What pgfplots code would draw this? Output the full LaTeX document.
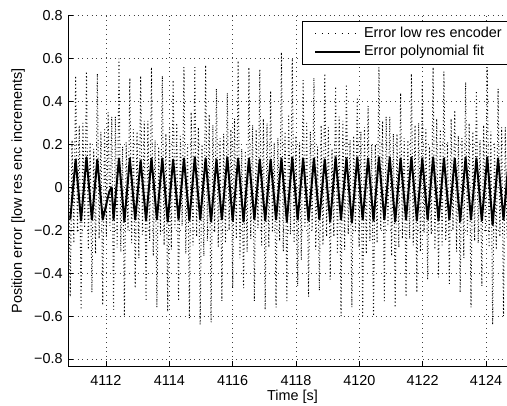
\documentclass[border=0pt]{standalone}
\usepackage{fontspec}
\setmainfont{Liberation Sans}
\usepackage{pgfplots}
\pgfplotsset{compat=1.18}

\newcommand{\figfont}{\fontsize{10.8}{13}\selectfont}

\begin{document}
\figfont
\begin{tikzpicture}
\begin{axis}[
  scale only axis,
  width=336.3pt, height=262.7pt,
  xmin=4110.81, xmax=4124.97,
  ymin=-0.833, ymax=0.8,
  axis lines=left,
  axis line style={-, line width=0.6pt},
  tick align=inside,
  major tick length=3.5pt,
  tick style={black, line width=0.5pt},
  xtick={4112,4114,4116,4118,4120,4122,4124},
  xticklabels={4112,4114,4116,4118,4120,4122,4124},
  ytick={-0.8,-0.6,-0.4,-0.2,0,0.2,0.4,0.6,0.8},
  yticklabels={−0.8,−0.6,−0.4,−0.2,0,0.2,0.4,0.6,0.8},
  tick label style={font=\figfont},
  xticklabel shift=3pt,
  yticklabel shift=0.5pt,
  grid=major,
  grid style={black!75, line width=0.5pt, dash pattern=on 0.5pt off 3pt},
  xlabel={Time [s]},
  ylabel={Position error [low res enc increments]},
  every axis x label/.style={at={(axis description cs:0.5,-0.0885)}, anchor=center, font=\figfont},
  every axis y label/.style={at={(axis description cs:-0.112,0.5)}, rotate=90, anchor=center, font=\figfont},
  legend cell align=left,
  legend style={at={(1,1)}, anchor=north east, xshift=0pt, yshift=-4pt,
    draw=black, line width=0.5pt, fill=white, inner xsep=9pt, inner ysep=2.5pt,
    font=\figfont},
  legend image code/.code={\draw[#1] (0pt,0pt) -- (33.75pt,0pt);},
]
\addplot[black, line width=0.72pt, dash pattern=on 0.72pt off 1.95pt,
  legend image code/.code={\draw[black, line width=0.6pt, dash pattern=on 0.6pt off 4.3pt] (0pt,0pt) -- (33.75pt,0pt);}]
table {
4110.815 0.25
4110.872 -0.51
4110.929 0.22
4110.986 -0.26
4111.043 0.52
4111.100 -0.21
4111.157 0.29
4111.214 -0.57
4111.271 0.30
4111.328 -0.19
4111.385 0.54
4111.442 -0.29
4111.499 0.21
4111.556 -0.49
4111.613 0.18
4111.670 -0.31
4111.727 0.53
4111.784 -0.24
4111.841 0.26
4111.898 -0.55
4111.955 0.27
4112.012 -0.23
4112.069 0.35
4112.126 -0.18
4112.183 0.33
4112.240 -0.57
4112.297 0.33
4112.354 -0.28
4112.411 0.60
4112.468 -0.30
4112.525 0.19
4112.582 -0.60
4112.639 0.21
4112.696 -0.20
4112.753 0.51
4112.810 -0.26
4112.867 0.27
4112.924 -0.47
4112.981 0.26
4113.038 -0.33
4113.095 0.52
4113.152 -0.22
4113.209 0.31
4113.266 -0.53
4113.323 0.31
4113.380 -0.25
4113.437 0.56
4113.494 -0.32
4113.551 0.22
4113.608 -0.56
4113.665 0.19
4113.722 -0.22
4113.779 0.52
4113.836 -0.27
4113.893 0.25
4113.950 -0.58
4114.007 0.28
4114.064 -0.29
4114.121 0.50
4114.178 -0.19
4114.235 0.30
4114.292 -0.53
4114.349 0.24
4114.406 -0.18
4114.463 0.56
4114.520 -0.31
4114.577 0.20
4114.634 -0.61
4114.691 0.35
4114.748 -0.27
4114.805 0.56
4114.862 -0.23
4114.919 0.28
4114.976 -0.64
4115.033 0.20
4115.090 -0.32
4115.147 0.57
4115.204 -0.25
4115.261 0.34
4115.318 -0.63
4115.375 0.29
4115.432 -0.21
4115.489 0.46
4115.546 -0.28
4115.603 0.23
4115.660 -0.53
4115.717 0.25
4115.774 -0.26
4115.831 0.44
4115.888 -0.20
4115.945 0.27
4116.002 -0.47
4116.059 0.32
4116.116 -0.24
4116.173 0.59
4116.230 -0.33
4116.287 0.18
4116.344 -0.47
4116.401 0.17
4116.458 -0.30
4116.515 0.56
4116.572 -0.24
4116.629 0.29
4116.686 -0.53
4116.743 0.27
4116.800 -0.19
4116.857 0.55
4116.914 -0.27
4116.971 0.32
4117.028 -0.57
4117.085 0.30
4117.142 -0.28
4117.199 0.45
4117.256 -0.21
4117.313 0.21
4117.370 -0.56
4117.427 0.23
4117.484 -0.25
4117.541 0.63
4117.598 -0.30
4117.655 0.26
4117.712 -0.53
4117.769 0.34
4117.826 -0.22
4117.883 0.60
4117.940 -0.26
4117.997 0.24
4118.054 -0.46
4118.111 0.21
4118.168 -0.34
4118.225 0.50
4118.282 -0.19
4118.339 0.30
4118.396 -0.51
4118.453 0.26
4118.510 -0.20
4118.567 0.51
4118.624 -0.29
4118.681 0.19
4118.738 -0.48
4118.795 0.29
4118.852 -0.27
4118.909 0.53
4118.966 -0.23
4119.023 0.28
4119.080 -0.43
4119.137 0.18
4119.194 -0.23
4119.251 0.47
4119.308 -0.31
4119.365 0.33
4119.422 -0.60
4119.479 0.31
4119.536 -0.29
4119.593 0.48
4119.650 -0.22
4119.707 0.22
4119.764 -0.56
4119.821 0.24
4119.878 -0.21
4119.935 0.42
4119.992 -0.28
4120.049 0.26
4120.106 -0.60
4120.163 0.28
4120.220 -0.31
4120.277 0.38
4120.334 -0.25
4120.391 0.20
4120.448 -0.60
4120.505 0.20
4120.562 -0.26
4120.619 0.56
4120.676 -0.20
4120.733 0.31
4120.790 -0.53
4120.847 0.33
4120.904 -0.18
4120.961 0.33
4121.018 -0.32
4121.075 0.25
4121.132 -0.56
4121.189 0.25
4121.246 -0.28
4121.303 0.44
4121.360 -0.24
4121.417 0.23
4121.474 -0.51
4121.531 0.22
4121.588 -0.24
4121.645 0.53
4121.702 -0.27
4121.759 0.29
4121.816 -0.49
4121.873 0.30
4121.930 -0.30
4121.987 0.49
4122.044 -0.21
4122.101 0.27
4122.158 -0.43
4122.215 0.19
4122.272 -0.22
4122.329 0.56
4122.386 -0.29
4122.443 0.32
4122.500 -0.42
4122.557 0.27
4122.614 -0.27
4122.671 0.54
4122.728 -0.25
4122.785 0.21
4122.842 -0.45
4122.899 0.32
4122.956 -0.20
4123.013 0.36
4123.070 -0.30
4123.127 0.24
4123.184 -0.49
4123.241 0.23
4123.298 -0.33
4123.355 0.49
4123.412 -0.22
4123.469 0.30
4123.526 -0.56
4123.583 0.26
4123.640 -0.25
4123.697 0.45
4123.754 -0.26
4123.811 0.22
4123.868 -0.46
4123.925 0.29
4123.982 -0.21
4124.039 0.56
4124.096 -0.28
4124.153 0.26
4124.210 -0.64
4124.267 0.21
4124.324 -0.29
4124.381 0.46
4124.438 -0.23
4124.495 0.28
4124.552 -0.60
4124.609 0.28
4124.666 -0.24
4124.723 0.50
4124.780 -0.27
4124.837 0.25
4124.894 -0.50
4124.951 0.25
4125.008 -0.26
};
\addlegendentry{Error low res encoder}
\addplot[black, line width=1.5pt, line join=round]
table {
4110.872 -0.150
4111.043 0.130
4111.214 -0.155
4111.385 0.140
4111.556 -0.150
4111.727 0.130
4111.898 -0.150
4112.104 -0.020
4112.180 0.000
4112.240 -0.150
4112.411 0.135
4112.582 -0.160
4112.753 0.135
4112.924 -0.150
4113.095 0.125
4113.266 -0.155
4113.437 0.135
4113.608 -0.150
4113.779 0.135
4113.950 -0.160
4114.121 0.130
4114.292 -0.150
4114.463 0.135
4114.634 -0.155
4114.805 0.140
4114.976 -0.150
4115.147 0.135
4115.318 -0.160
4115.489 0.130
4115.660 -0.150
4115.831 0.140
4116.002 -0.155
4116.173 0.135
4116.344 -0.160
4116.515 0.135
4116.686 -0.150
4116.857 0.130
4117.028 -0.155
4117.199 0.130
4117.370 -0.150
4117.541 0.135
4117.712 -0.160
4117.883 0.140
4118.054 -0.150
4118.225 0.135
4118.396 -0.155
4118.567 0.135
4118.738 -0.150
4118.909 0.130
4119.080 -0.160
4119.251 0.140
4119.422 -0.150
4119.593 0.135
4119.764 -0.165
4119.935 0.140
4120.106 -0.150
4120.277 0.135
4120.448 -0.155
4120.619 0.140
4120.790 -0.150
4120.961 0.140
4121.132 -0.160
4121.303 0.135
4121.474 -0.150
4121.645 0.140
4121.816 -0.155
4121.987 0.135
4122.158 -0.150
4122.329 0.140
4122.500 -0.155
4122.671 0.135
4122.842 -0.150
4123.013 0.135
4123.184 -0.160
4123.355 0.140
4123.526 -0.150
4123.697 0.135
4123.868 -0.155
4124.039 0.140
4124.210 -0.175
4124.381 0.135
4124.552 -0.150
4124.723 0.135
4124.894 -0.150
4125.065 0.135
};
\addlegendentry{Error polynomial fit}
\end{axis}
\pgfresetboundingbox
\useasboundingbox (-51.2pt,-29.25pt) rectangle (329pt,274.5pt);
\end{tikzpicture}
\end{document}
